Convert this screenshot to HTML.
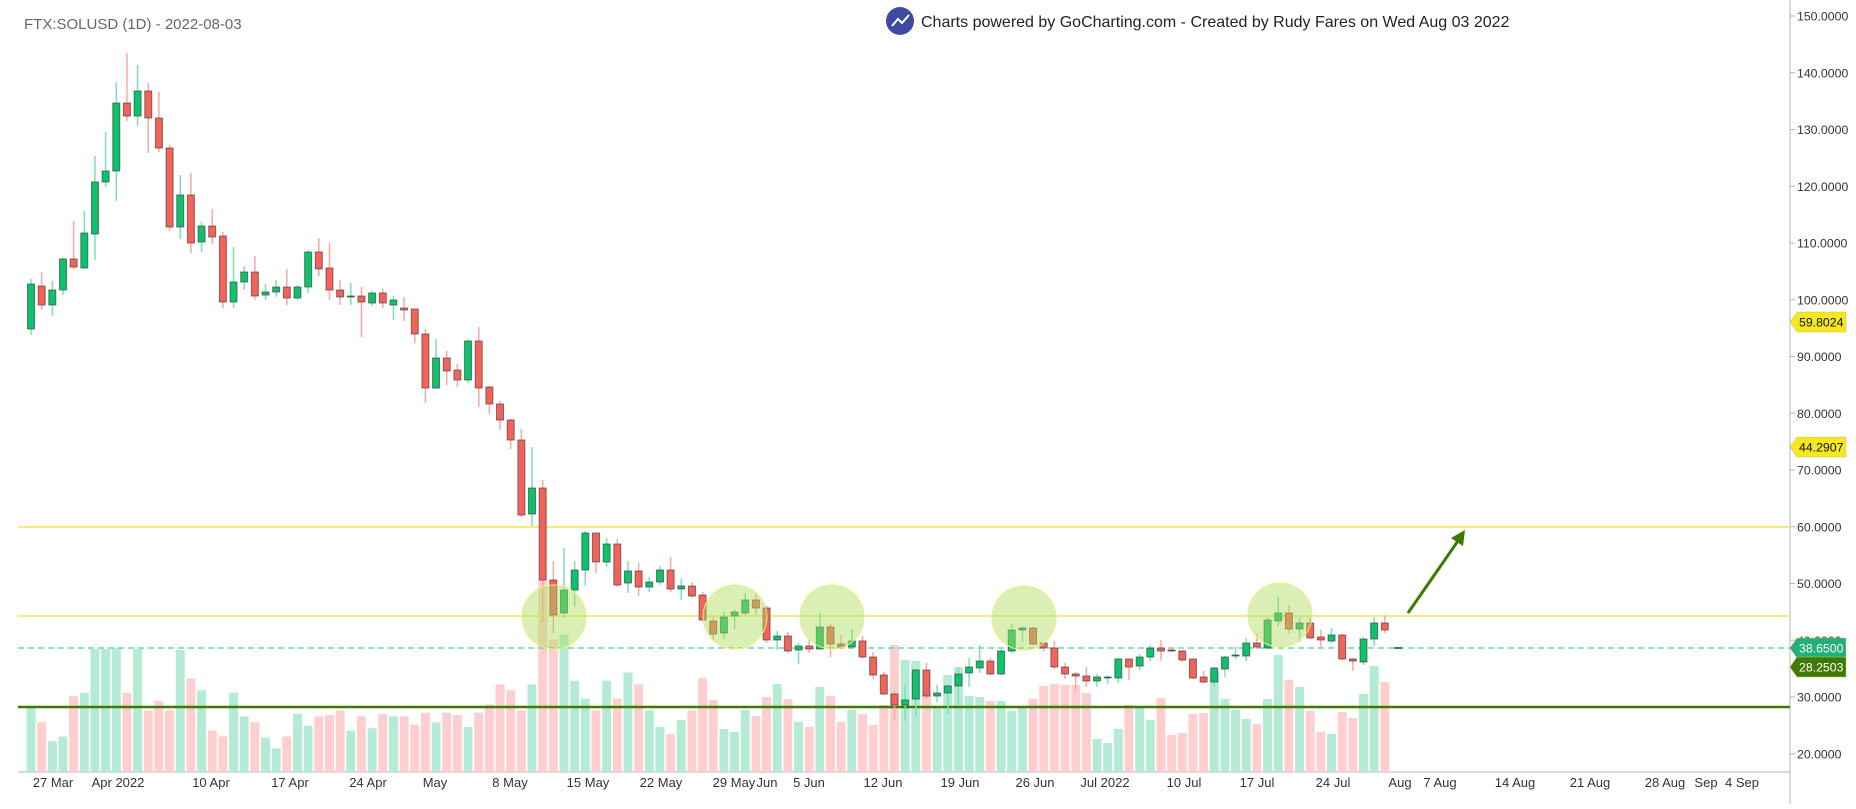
<!DOCTYPE html>
<html><head><meta charset="utf-8"><style>
html,body{margin:0;padding:0;background:#fff;}
body{width:1856px;height:804px;overflow:hidden;font-family:"Liberation Sans",sans-serif;}
</style></head><body>
<svg id="s" width="1856" height="804" xmlns="http://www.w3.org/2000/svg" font-family="Liberation Sans, sans-serif"></svg>
<script>
const s=document.getElementById('s');let h='';
const X=i=>31+i*10.66;
const vd=[597,610,626,622,588,585,548,548,547,585,548,600,592,600,549,573,583,617,622,585,605,610,623,632,622,603,613,605,604,600,617,605,615,603,605,605,612,602,610,602,604,614,602,595,578,583,600,578,490,540,536,575,590,600,575,590,568,578,600,614,620,608,600];
const vr=[678,700,729,732,710,716,697,684,699,722,727,687,696,722,710,714,725,705,645,660,661,693,707,675,667,696,697,701,701,711,707,699,686,684,685,685,693,739,743,729,705,707,720,698,735,733,714,713,673,699,710,719,724,699,655,680,687,711,732,734,712,718,694,666,682];
const V=vd.map(v=>v*1.184).concat(vr);
const C=[
[284,329,279,335,'g'],[286,305,272,310,'r'],[290,305,281,316,'g'],[259,290,258,295,'g'],[259,267,221,269,'r'],[233,268,211,269,'g'],[182,234,156,260,'g'],[171,182,132,187,'g'],[103,171,82,201,'g'],[103,116,53,121,'r'],
[91,116,65,126,'g'],[91,118,83,153,'r'],[118,148,92,152,'r'],[148,227,145,231,'r'],[195,227,175,239,'g'],[195,243,173,253,'r'],[226,242,222,252,'g'],[226,237,209,244,'r'],[236,302,232,308,'r'],[282,302,247,308,'g'],
[272,282,266,290,'g'],[272,296,256,300,'r'],[292,295,284,300,'g'],[287,292,280,297,'g'],[287,298,269,305,'r'],[287,298,285,300,'g'],[252,287,250,293,'g'],[252,269,238,276,'r'],[268,290,243,300,'r'],[290,297,280,305,'r'],
[296,297,283,305,'g'],[296,302,287,337,'r'],[293,303,291,306,'g'],[293,303,289,308,'r'],[300,305,296,320,'g'],[308,310,297,321,'r'],[309,334,309,343,'r'],[334,388,329,403,'r'],[358,388,339,389,'g'],[358,371,351,385,'r'],
[370,380,364,387,'r'],[341,380,339,383,'g'],[341,388,327,407,'r'],[387,404,386,414,'r'],[404,420,401,430,'r'],[420,440,419,449,'r'],[440,515,429,517,'r'],[488,514,447,526,'g'],[488,580,480,623,'r'],[580,615,561,633,'r'],
[590,613,548,618,'g'],[570,590,561,607,'g'],[533,570,531,586,'g'],[533,562,533,573,'r'],[544,562,538,567,'g'],[544,585,539,587,'r'],[571,583,561,593,'g'],[571,587,563,596,'r'],[582,587,577,592,'g'],[570,582,566,585,'g'],
[570,589,557,592,'r'],[586,589,579,600,'g'],[586,596,582,598,'r'],[595,620,592,621,'r'],[621,634,617,640,'r'],[617,633,612,639,'g'],[612,616,609,629,'g'],[600,613,593,615,'g'],[600,608,594,615,'r'],[608,640,606,643,'r'],
[636,640,631,650,'g'],[636,651,632,653,'r'],[646,650,643,664,'g'],[646,649,639,653,'r'],[627,649,613,649,'g'],[627,644,624,657,'r'],[644,647,635,649,'r'],[641,647,629,649,'g'],[641,657,636,659,'r'],[657,675,652,679,'r'],
[675,694,672,695,'r'],[694,705,691,720,'r'],[700,705,685,721,'g'],[670,699,669,716,'g'],[670,696,663,699,'r'],[693,696,685,702,'g'],[686,693,685,714,'g'],[674,686,667,704,'g'],[667,673,658,687,'g'],[661,668,645,673,'g'],
[661,674,658,675,'r'],[651,674,649,675,'g'],[630,651,624,653,'g'],[628,630,627,642,'g'],[628,644,627,645,'r'],[643,648,642,651,'r'],[648,667,641,669,'r'],[667,674,663,679,'r'],[674,676,672,692,'r'],[676,681,667,687,'r'],
[677,681,674,687,'g'],[677,678,676,684,'g'],[659,678,658,683,'g'],[659,667,659,680,'r'],[657,666,654,670,'g'],[648,657,645,661,'g'],[648,651,640,661,'r'],[650,651,648,652,'r'],[651,660,650,662,'r'],[659,678,659,679,'r'],
[677,682,671,683,'r'],[668,682,667,687,'g'],[657,669,656,677,'g'],[655,656,646,659,'g'],[643,656,638,661,'g'],[643,647,634,649,'r'],[620,648,617,649,'g'],[613,621,597,626,'g'],[613,629,605,633,'r'],[623,629,617,642,'g'],
[623,638,617,639,'r'],[637,640,630,648,'r'],[635,641,628,643,'g'],[635,659,634,660,'r'],[659,661,658,671,'r'],[639,662,637,665,'g'],[623,639,617,646,'g'],[623,630,615,633,'r']];
h+=`<text x="24" y="29" font-size="15" fill="#666">FTX:SOLUSD (1D) - 2022-08-03</text>`;
h+=`<circle cx="900" cy="21" r="14" fill="#3d4aa0"/><polyline points="892,26 898,19 902,23 909,15" fill="none" stroke="#fff" stroke-width="2"/>`;
h+=`<text x="921" y="27" font-size="16" fill="#222">Charts powered by GoCharting.com - Created by Rudy Fares on Wed Aug 03 2022</text>`;
h+=`<line x1="1790" y1="0" x2="1790" y2="804" stroke="#b0b4bc"/>`;
h+=`<line x1="18" y1="772" x2="1790" y2="772" stroke="#b0b4bc"/>`;
for(let k=0;k<14;k++){const p=150-k*10,y=16+k*56.75;h+=`<line x1="1790" y1="${y}" x2="1795" y2="${y}" stroke="#b0b4bc"/><text x="1797" y="${y+4.5}" font-size="12.3" fill="#333">${p}.0000</text>`;}
const xl=[[53,'27 Mar'],[118,'Apr 2022'],[211,'10 Apr'],[290,'17 Apr'],[368,'24 Apr'],[435,'May'],[510,'8 May'],[588,'15 May'],[661,'22 May'],[734,'29 May'],[767,'Jun'],[809,'5 Jun'],[883,'12 Jun'],[960,'19 Jun'],[1035,'26 Jun'],[1105,'Jul 2022'],[1184,'10 Jul'],[1257,'17 Jul'],[1333,'24 Jul'],[1400,'Aug'],[1440,'7 Aug'],[1515,'14 Aug'],[1590,'21 Aug'],[1665,'28 Aug'],[1706,'Sep'],[1742,'4 Sep']];
xl.forEach(([x,t])=>{h+=`<text x="${x}" y="787" font-size="13" fill="#333" text-anchor="middle">${t}</text>`;});
V.forEach((v,i)=>{const c=C[i][4]=='g'?'#b5ebd5':'#ffcfcf';h+=`<rect x="${X(i)-4.5}" y="${v}" width="9" height="${772-v}" fill="${c}"/>`;});
h+=`<line x1="18" y1="527" x2="1790" y2="527" stroke="#f5ec80" stroke-width="2"/>`;
h+=`<line x1="18" y1="616" x2="1790" y2="616" stroke="#f5ec80" stroke-width="2"/>`;
h+=`<line x1="18" y1="648" x2="1790" y2="648" stroke="#6dd6ae" stroke-width="1.5" stroke-dasharray="6,4"/>`;
h+=`<line x1="18" y1="707" x2="1790" y2="707" stroke="#3f7a00" stroke-width="2.5"/>`;
C.forEach((c,i)=>{const x=X(i),g=c[4]=='g';h+=`<line x1="${x}" y1="${c[2]}" x2="${x}" y2="${c[3]}" stroke="${g?'#7ee0b4':'#f8a8a5'}" stroke-width="1.5"/>`;
h+=`<rect x="${x-3.5}" y="${c[0]}" width="7" height="${Math.max(1,c[1]-c[0])}" fill="${g?'#0cc26c':'#f4625a'}" stroke="rgba(60,60,60,0.65)" stroke-width="1"/>`;});
h+=`<line x1="1394" y1="648" x2="1402" y2="648" stroke="#2a8a5a" stroke-width="2"/>`;
[[554,617],[735,617],[832,617],[1024,618],[1280,615]].forEach(([x,y])=>{h+=`<circle cx="${x}" cy="${y}" r="32" fill="rgba(170,220,90,0.45)" stroke="#eaf07a" stroke-width="1"/>`;});
h+=`<line x1="1408" y1="613" x2="1460" y2="538" stroke="#3f7a00" stroke-width="3"/><polygon points="1465,530 1451,538 1463,546" fill="#3f7a00"/>`;
function tag(y,t,bg,fg){h+=`<polygon points="1790,${y} 1797,${y-10} 1846,${y-10} 1846,${y+10} 1797,${y+10}" fill="${bg}" stroke="#c8c060" stroke-width="0.5"/><text x="1799" y="${y+4.5}" font-size="12.3" fill="${fg}">${t}</text>`;}
tag(322,'59.8024','#f7e720','#111');tag(447,'44.2907','#f7e720','#111');tag(648,'38.6500','#22b07a','#fff');tag(667,'28.2503','#3f7a00','#fff');
s.innerHTML=h;
</script>
</body></html>
